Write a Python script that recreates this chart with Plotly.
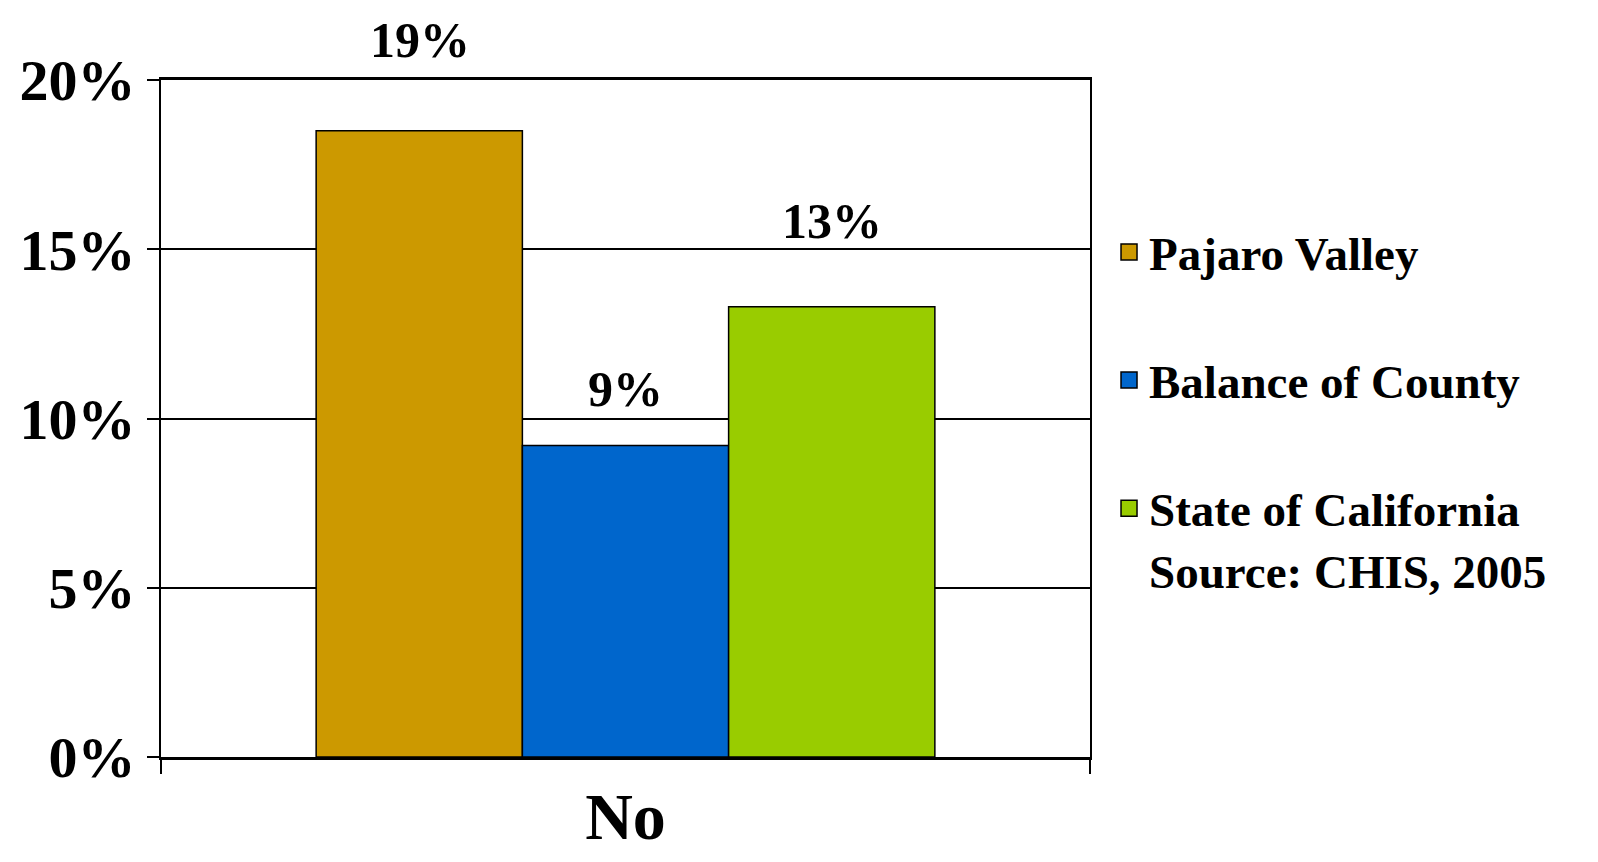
import plotly.graph_objects as go

categories = ["No"]
series_names = ["Pajaro Valley", "Balance of County", "State of California<br>Source: CHIS, 2005"]
series_values = [18.5, 9.2, 13.3]
value_labels = ["19%", "9%", "13%"]
tick_values = [0, 5, 10, 15, 20]
tick_labels = ["0%", "5%", "10%", "15%", "20%"]

colors = ["#CC9900", "#0066CC", "#99CC00"]
label_shift_px = [91, 57, 86]
FONT = "Liberation Serif"

fig = go.Figure()
for i, (name, val) in enumerate(zip(series_names, series_values)):
    fig.add_trace(go.Bar(
        x=categories, y=[val], name=name,
        marker=dict(color=colors[i], line=dict(color="black", width=1.5)),
        offsetgroup=str(i), showlegend=False,
    ))
# legend entries with larger square swatches
for i, name in enumerate(series_names):
    fig.add_trace(go.Scatter(
        x=[None], y=[None], mode="markers", name=name,
        marker=dict(symbol="square", size=16, color=colors[i],
                    line=dict(color="black", width=1.5)),
        legendgroup=f"g{i}", hoverinfo="skip",
    ))

n = len(series_values)
for i, (val, lab) in enumerate(zip(series_values, value_labels)):
    fig.add_annotation(
        x=categories[0], y=val, text=lab, showarrow=False,
        xshift=(i - (n - 1) / 2) * 206, yshift=label_shift_px[i],
        font=dict(family=FONT, size=50, color="black", weight="bold"),
        yanchor="middle",
    )

fig.update_layout(
    width=1598, height=862,
    margin=dict(l=153, r=516, t=72, b=113, autoexpand=False),
    paper_bgcolor="white", plot_bgcolor="white",
    barmode="group", bargap=0.334, bargroupgap=0,
    showlegend=True,
    legend=dict(
        xref="container", yref="container",
        x=0.689, y=0.76, xanchor="left", yanchor="top",
        font=dict(family=FONT, size=47, color="black", weight="bold"),
        tracegroupgap=64, valign="top", itemsizing="trace",
        bgcolor="rgba(0,0,0,0)",
    ),
    font=dict(family=FONT, color="black"),
)
fig.update_yaxes(
    range=[0, 20], tickvals=tick_values, ticktext=tick_labels,
    showgrid=True, gridcolor="black", gridwidth=2,
    showline=True, linecolor="black", linewidth=2, mirror=True,
    ticks="outside", ticklen=12, tickwidth=2, tickcolor="black",
    tickfont=dict(family=FONT, size=58, color="black", weight="bold"),
    zeroline=False, automargin=False,
)
fig.update_xaxes(
    showline=True, linecolor="black", linewidth=3, mirror=True,
    ticks="outside", tickson="boundaries", ticklen=14, tickwidth=2, tickcolor="black",
    tickfont=dict(family=FONT, size=66, color="black", weight="bold"),
    automargin=False, range=[-0.5, 0.5],
)

fig.write_html("out.html")
